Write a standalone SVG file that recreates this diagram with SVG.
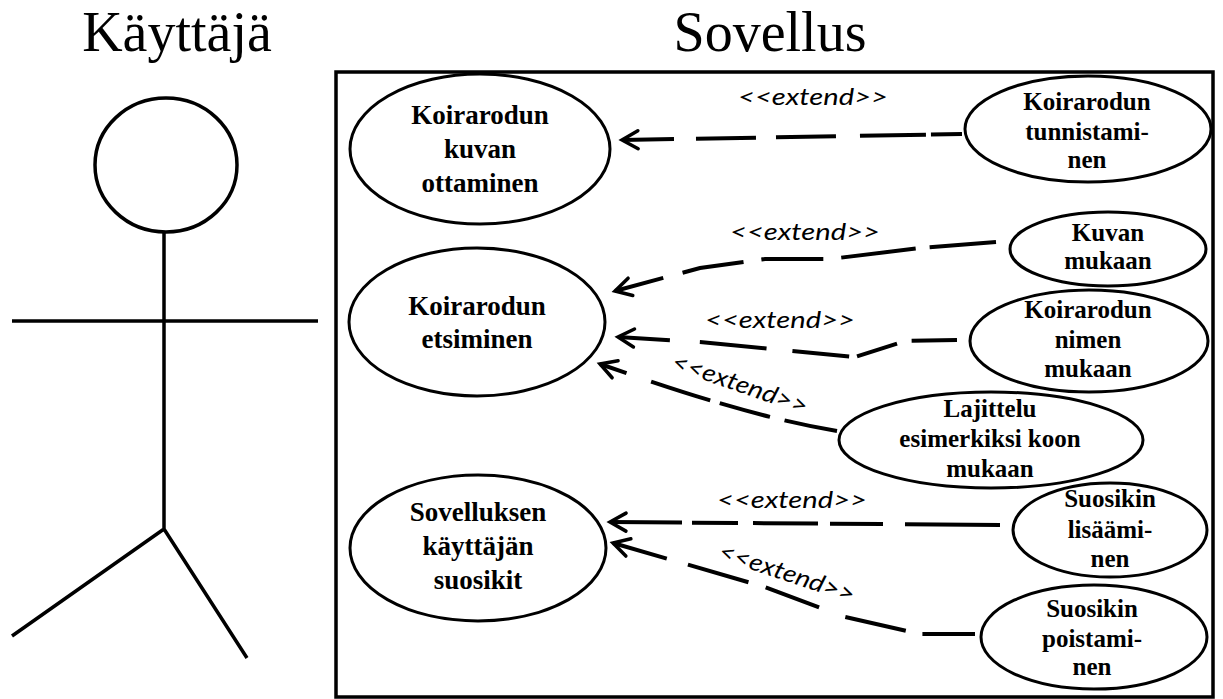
<svg xmlns="http://www.w3.org/2000/svg" width="1223" height="699" viewBox="0 0 1223 699">
<style>
.uc{fill:#fff;stroke:#000;stroke-width:3}
.con{fill:none;stroke:#000;stroke-width:4;marker-start:url(#arr)}
.actor{fill:none;stroke:#000;stroke-width:3.5}
</style>
<defs>
<marker id="arr" markerUnits="userSpaceOnUse" viewBox="-22 -14 26 28" refX="0" refY="0" markerWidth="26" markerHeight="28" orient="auto-start-reverse">
<path d="M-16,-9 L0,0 L-16,9" fill="none" stroke="#000" stroke-width="3.5" stroke-linecap="round"/>
</marker>
</defs>
<rect width="1223" height="699" fill="#fff"/>

<g id="actor">
<text x="177" y="51" font-family="Times New Roman" font-size="56" text-anchor="middle">Käyttäjä</text>
<ellipse class="actor" cx="166" cy="165" rx="71" ry="67"/>
<path class="actor" d="M164,232 L164,529 M12,321 L318,321 M164,529 L12,636 M164,529 L247,658"/>
</g>

<g id="system">
<text x="770" y="51" font-family="Times New Roman" font-size="56" text-anchor="middle">Sovellus</text>
<rect x="336" y="72" width="877" height="625" fill="none" stroke="#000" stroke-width="3.5"/>
</g>

<g id="uc-kuvan-ottaminen">
<ellipse class="uc" cx="480" cy="149" rx="130" ry="75"/>
<text x="480" y="124" font-family="Times New Roman" font-weight="bold" font-size="27" text-anchor="middle">Koirarodun</text>
<text x="480" y="158" font-family="Times New Roman" font-weight="bold" font-size="27" text-anchor="middle">kuvan</text>
<text x="480" y="192" font-family="Times New Roman" font-weight="bold" font-size="27" text-anchor="middle">ottaminen</text>
</g>

<g id="uc-etsiminen">
<ellipse class="uc" cx="477" cy="322" rx="128" ry="74"/>
<text x="477" y="315" font-family="Times New Roman" font-weight="bold" font-size="27" text-anchor="middle">Koirarodun</text>
<text x="477" y="348" font-family="Times New Roman" font-weight="bold" font-size="27" text-anchor="middle">etsiminen</text>
</g>

<g id="uc-suosikit">
<ellipse class="uc" cx="478" cy="548" rx="128" ry="73"/>
<text x="478" y="521" font-family="Times New Roman" font-weight="bold" font-size="27" text-anchor="middle">Sovelluksen</text>
<text x="478" y="555" font-family="Times New Roman" font-weight="bold" font-size="27" text-anchor="middle">käyttäjän</text>
<text x="478" y="589" font-family="Times New Roman" font-weight="bold" font-size="27" text-anchor="middle">suosikit</text>
</g>

<g id="uc-tunnistaminen">
<ellipse class="uc" cx="1088" cy="129" rx="123" ry="53"/>
<text x="1087" y="110" font-family="Times New Roman" font-weight="bold" font-size="25" text-anchor="middle">Koirarodun</text>
<text x="1087" y="140" font-family="Times New Roman" font-weight="bold" font-size="25" text-anchor="middle">tunnistami-</text>
<text x="1087" y="168" font-family="Times New Roman" font-weight="bold" font-size="25" text-anchor="middle">nen</text>
</g>

<g id="uc-kuvan-mukaan">
<ellipse class="uc" cx="1108" cy="249" rx="98" ry="37"/>
<text x="1108" y="241" font-family="Times New Roman" font-weight="bold" font-size="25" text-anchor="middle">Kuvan</text>
<text x="1108" y="269" font-family="Times New Roman" font-weight="bold" font-size="25" text-anchor="middle">mukaan</text>
</g>

<g id="uc-nimen-mukaan">
<ellipse class="uc" cx="1089" cy="341" rx="119" ry="51"/>
<text x="1088" y="318" font-family="Times New Roman" font-weight="bold" font-size="25" text-anchor="middle">Koirarodun</text>
<text x="1088" y="348" font-family="Times New Roman" font-weight="bold" font-size="25" text-anchor="middle">nimen</text>
<text x="1088" y="377" font-family="Times New Roman" font-weight="bold" font-size="25" text-anchor="middle">mukaan</text>
</g>

<g id="uc-lajittelu">
<ellipse class="uc" cx="991" cy="440" rx="152" ry="48"/>
<text x="990" y="417" font-family="Times New Roman" font-weight="bold" font-size="25" text-anchor="middle">Lajittelu</text>
<text x="990" y="447" font-family="Times New Roman" font-weight="bold" font-size="25" text-anchor="middle">esimerkiksi koon</text>
<text x="990" y="477" font-family="Times New Roman" font-weight="bold" font-size="25" text-anchor="middle">mukaan</text>
</g>

<g id="uc-lisaaminen">
<ellipse class="uc" cx="1110" cy="530" rx="97" ry="47"/>
<text x="1110" y="507" font-family="Times New Roman" font-weight="bold" font-size="25" text-anchor="middle">Suosikin</text>
<text x="1110" y="538" font-family="Times New Roman" font-weight="bold" font-size="25" text-anchor="middle">lisäämi-</text>
<text x="1110" y="567" font-family="Times New Roman" font-weight="bold" font-size="25" text-anchor="middle">nen</text>
</g>

<g id="uc-poistaminen">
<ellipse class="uc" cx="1094" cy="637" rx="113" ry="52"/>
<text x="1092" y="617" font-family="Times New Roman" font-weight="bold" font-size="25" text-anchor="middle">Suosikin</text>
<text x="1092" y="647" font-family="Times New Roman" font-weight="bold" font-size="25" text-anchor="middle">poistami-</text>
<text x="1092" y="675" font-family="Times New Roman" font-weight="bold" font-size="25" text-anchor="middle">nen</text>
</g>

<g id="connectors">
<path class="con" d="M622,140 L962,134" stroke-dasharray="52 22 60 20 60 24 66 5 40"/>
<text x="813" y="105" font-family="Lato" font-style="italic" font-size="24" text-anchor="middle" textLength="150" lengthAdjust="spacingAndGlyphs">&lt;&lt;extend&gt;&gt;</text>

<path class="con" d="M615,291 L700,268 L765,259 L830,259 L920,248 L996,242" stroke-dasharray="50 20 62 18 62 18 75 14 70"/>
<text x="805" y="240" font-family="Lato" font-style="italic" font-size="24" text-anchor="middle" textLength="150" lengthAdjust="spacingAndGlyphs">&lt;&lt;extend&gt;&gt;</text>

<path class="con" d="M618,337 L700,342 L855,357 L905,341 L957,340" stroke-dasharray="52 30 67 26 57 8 42 15 50"/>
<text x="780" y="328" font-family="Lato" font-style="italic" font-size="24" text-anchor="middle" textLength="150" lengthAdjust="spacingAndGlyphs">&lt;&lt;extend&gt;&gt;</text>

<path class="con" d="M600,364 C680,392 760,418 837,431" stroke-dasharray="28 26 62 10 52 15 60"/>
<text x="740" y="392" font-family="Lato" font-style="italic" font-size="24" text-anchor="middle" transform="rotate(19 740 384)" textLength="142" lengthAdjust="spacingAndGlyphs">&lt;&lt;extend&gt;&gt;</text>

<path class="con" d="M610,522 L1000,525" stroke-dasharray="72 10 46 15 65 12 53 22 100"/>
<text x="792" y="508" font-family="Lato" font-style="italic" font-size="24" text-anchor="middle" textLength="150" lengthAdjust="spacingAndGlyphs">&lt;&lt;extend&gt;&gt;</text>

<path class="con" d="M613,543 L765,587 L845,617 L920,634 L975,634" stroke-dasharray="56 22 63 18 57 28 62 17 60"/>
<text x="787" y="581" font-family="Lato" font-style="italic" font-size="24" text-anchor="middle" transform="rotate(18.5 787 573)" textLength="142" lengthAdjust="spacingAndGlyphs">&lt;&lt;extend&gt;&gt;</text>
</g>
</svg>
